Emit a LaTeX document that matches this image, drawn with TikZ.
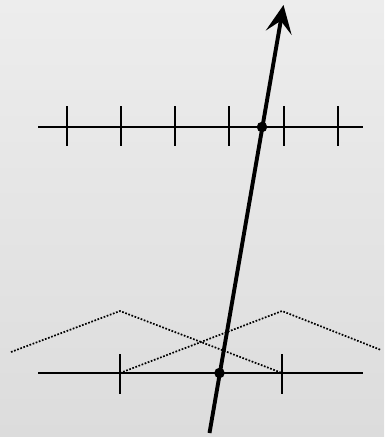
\documentclass[tikz,border=0pt]{standalone}
\usetikzlibrary{arrows.meta}
\definecolor{bgtop}{RGB}{237,237,237}
\definecolor{bgbot}{RGB}{220,220,220}
\begin{document}
\begin{tikzpicture}[x=1pt,y=-1pt,
  axisline/.style={line width=2pt},
  tickmark/.style={line width=2pt},
  hat/.style={line width=1.7pt,dash pattern=on 1.7pt off 1.6pt},
  ray/.style={line width=3.9pt,-{Stealth[length=28pt,width=26pt,inset=12pt]}},
  knot/.style={circle,fill=black,inner sep=0pt,minimum size=10.5pt}]
\useasboundingbox (0,0) rectangle (384,437);
\shade[top color=bgtop,bottom color=bgbot] (0,0) rectangle (384,437);
% top axis
\coordinate (tl) at (38,127);
\coordinate (tr) at (363,127);
\draw[axisline] (tl) -- (tr);
\foreach \x [count=\i] in {67,121,175,229,284,338}{
  \coordinate (tt\i) at (\x,106);
  \coordinate (tb\i) at (\x,146);
  \draw[tickmark] (tt\i) -- (tb\i);
}
% bottom axis
\coordinate (bl) at (38,373);
\coordinate (br) at (363,373);
\draw[axisline] (bl) -- (br);
\foreach \x [count=\i] in {120,282}{
  \coordinate (bt\i) at (\x,354);
  \coordinate (bb\i) at (\x,394);
  \draw[tickmark] (bt\i) -- (bb\i);
}
% hat functions
\coordinate (h1a) at (11,352);
\coordinate (h1p) at (120,311);
\coordinate (h1b) at (282,373);
\coordinate (h2a) at (120,373);
\coordinate (h2p) at (282,311);
\coordinate (h2b) at (381,350);
\draw[hat] (h1a) -- (h1p) -- (h1b);
\draw[hat] (h2a) -- (h2p) -- (h2b);
% ray
\coordinate (rs) at (209.5,433);
\coordinate (rt) at (283.5,5);
\draw[ray] (rs) -- (rt);
\node[knot] (kb) at (219.5,373) {};
\node[knot] (kt) at (262,127) {};
\end{tikzpicture}
\end{document}
